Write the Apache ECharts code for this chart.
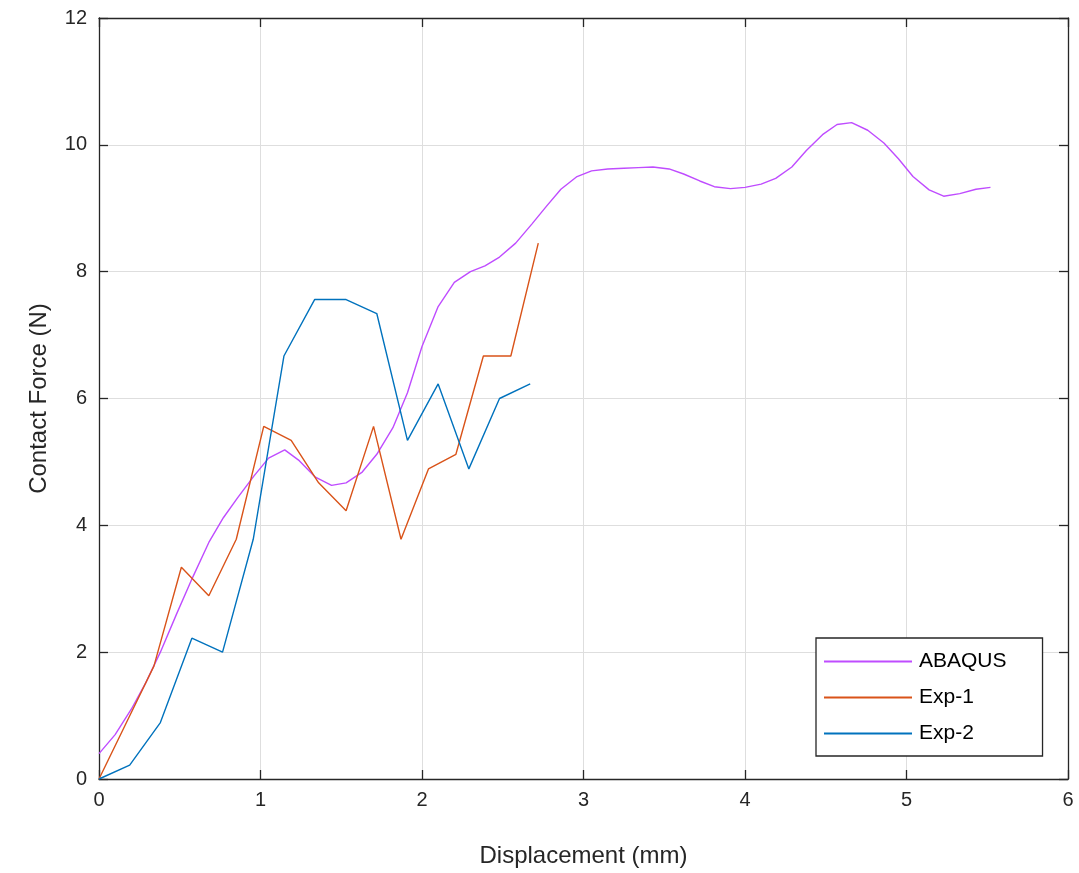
<!DOCTYPE html>
<html>
<head>
<meta charset="utf-8">
<script src="https://cdn.jsdelivr.net/npm/echarts@6/dist/echarts.min.js"></script>
<style>
  html, body { margin: 0; padding: 0; background: #fff; }
  #chart { width: 1079px; height: 873px; }
</style>
</head>
<body>
<div id="chart"></div>
<script>
// Simulation curve: displacement (mm) and contact force (N)
const abaqusX = [0, 0.10, 0.20, 0.29, 0.38, 0.48, 0.58, 0.68, 0.77, 0.86, 0.96, 1.05, 1.15, 1.24, 1.34, 1.44, 1.53, 1.63, 1.72, 1.82,
  1.91, 2.00, 2.10, 2.20, 2.30, 2.39, 2.48, 2.58, 2.68, 2.77, 2.86, 2.96, 3.05, 3.15, 3.25, 3.34, 3.43, 3.53, 3.62, 3.72,
  3.81, 3.91, 4.00, 4.10, 4.19, 4.29, 4.38, 4.48, 4.57, 4.66, 4.76, 4.86, 4.95, 5.04, 5.14, 5.23, 5.33, 5.43, 5.52];
const abaqusY = [0.40, 0.70, 1.10, 1.52, 2.00, 2.60, 3.18, 3.73, 4.12, 4.44, 4.78, 5.06, 5.19, 5.02, 4.76, 4.63, 4.67, 4.84, 5.12, 5.54,
  6.09, 6.82, 7.45, 7.83, 8.00, 8.09, 8.23, 8.45, 8.75, 9.03, 9.30, 9.50, 9.59, 9.62, 9.63, 9.64, 9.65, 9.62, 9.54, 9.43,
  9.34, 9.31, 9.33, 9.38, 9.47, 9.65, 9.91, 10.16, 10.32, 10.35, 10.23, 10.03, 9.78, 9.50, 9.29, 9.19, 9.23, 9.30, 9.33];

// Test 1
const exp1X = [0, 0.17, 0.34, 0.51, 0.68, 0.85, 1.02, 1.19, 1.36, 1.53, 1.70, 1.87, 2.04, 2.21, 2.38, 2.55, 2.72];
const exp1Y = [0, 0.89, 1.78, 3.34, 2.89, 3.78, 5.56, 5.34, 4.67, 4.23, 5.56, 3.78, 4.89, 5.12, 6.67, 6.67, 8.45];

// Test 2
const exp2X = [0, 0.19, 0.38, 0.575, 0.765, 0.955, 1.145, 1.335, 1.53, 1.72, 1.91, 2.10, 2.29, 2.48, 2.67];
const exp2Y = [0, 0.22, 0.89, 2.22, 2.00, 3.78, 6.67, 7.56, 7.56, 7.34, 5.34, 6.23, 4.89, 6.00, 6.23];

const seriesNames = ['ABAQUS', 'Exp-1', 'Exp-2'];
const seriesColors = ['#BF4CFF', '#D95319', '#0072BD'];

const xTicks = [0, 1, 2, 3, 4, 5, 6];
const yTicks = [0, 2, 4, 6, 8, 10, 12];

const zip = (xs, ys) => xs.map((x, i) => [x, ys[i]]);

const axisColor = '#262626';
const font = 'Liberation Sans, Arial, Helvetica, sans-serif';

const baseAxis = {
  type: 'value',
  axisLine: { show: true, onZero: false, lineStyle: { color: axisColor, width: 1.3 } },
  axisTick: { show: true, inside: true, length: 9, lineStyle: { color: axisColor, width: 1.3 } },
};

const chart = echarts.init(document.getElementById('chart'), null, { renderer: 'canvas' });

chart.setOption({
  backgroundColor: '#ffffff',
  animation: false,
  grid: { left: 99, right: 11, top: 18, bottom: 93, containLabel: false },
  xAxis: [
    Object.assign({}, baseAxis, {
      position: 'bottom',
      min: xTicks[0], max: xTicks[xTicks.length - 1], interval: 1,
      name: 'Displacement (mm)',
      nameLocation: 'middle', nameGap: 65,
      nameTextStyle: { fontFamily: font, fontSize: 24, color: axisColor },
      axisLabel: { fontFamily: font, fontSize: 20, color: axisColor, margin: 11 },
      splitLine: { show: true, lineStyle: { color: '#dedede', width: 1 } },
    }),
    Object.assign({}, baseAxis, {
      position: 'top',
      min: xTicks[0], max: xTicks[xTicks.length - 1], interval: 1,
      axisLabel: { show: false },
      splitLine: { show: false },
    }),
  ],
  yAxis: [
    Object.assign({}, baseAxis, {
      position: 'left',
      min: yTicks[0], max: yTicks[yTicks.length - 1], interval: 2,
      name: 'Contact Force (N)',
      nameLocation: 'middle', nameGap: 48, nameRotate: 90,
      nameTextStyle: { fontFamily: font, fontSize: 24, color: axisColor },
      axisLabel: { fontFamily: font, fontSize: 20, color: axisColor, margin: 12 },
      splitLine: { show: true, lineStyle: { color: '#dedede', width: 1 } },
    }),
    Object.assign({}, baseAxis, {
      position: 'right',
      min: yTicks[0], max: yTicks[yTicks.length - 1], interval: 2,
      axisLabel: { show: false },
      splitLine: { show: false },
    }),
  ],
  legend: {
    orient: 'vertical',
    left: 816, top: 638,
    padding: [13, 36, 12, 8],
    itemWidth: 88, itemHeight: 2, itemGap: 15,
    icon: 'path://M0,0H88V2H0Z',
    backgroundColor: '#ffffff',
    borderColor: axisColor, borderWidth: 1.3, borderRadius: 0,
    textStyle: { fontFamily: font, fontSize: 21, color: '#000000', padding: [0, 0, 0, 2] },
    data: seriesNames,
  },
  series: [
    { data: zip(abaqusX, abaqusY) },
    { data: zip(exp1X, exp1Y) },
    { data: zip(exp2X, exp2Y) },
  ].map((s, i) => ({
    name: seriesNames[i],
    type: 'line',
    data: s.data,
    xAxisIndex: 0, yAxisIndex: 0,
    symbol: 'none',
    color: seriesColors[i],
    lineStyle: { color: seriesColors[i], width: 1.4 },
    z: 3,
  })),
});
</script>
</body>
</html>
